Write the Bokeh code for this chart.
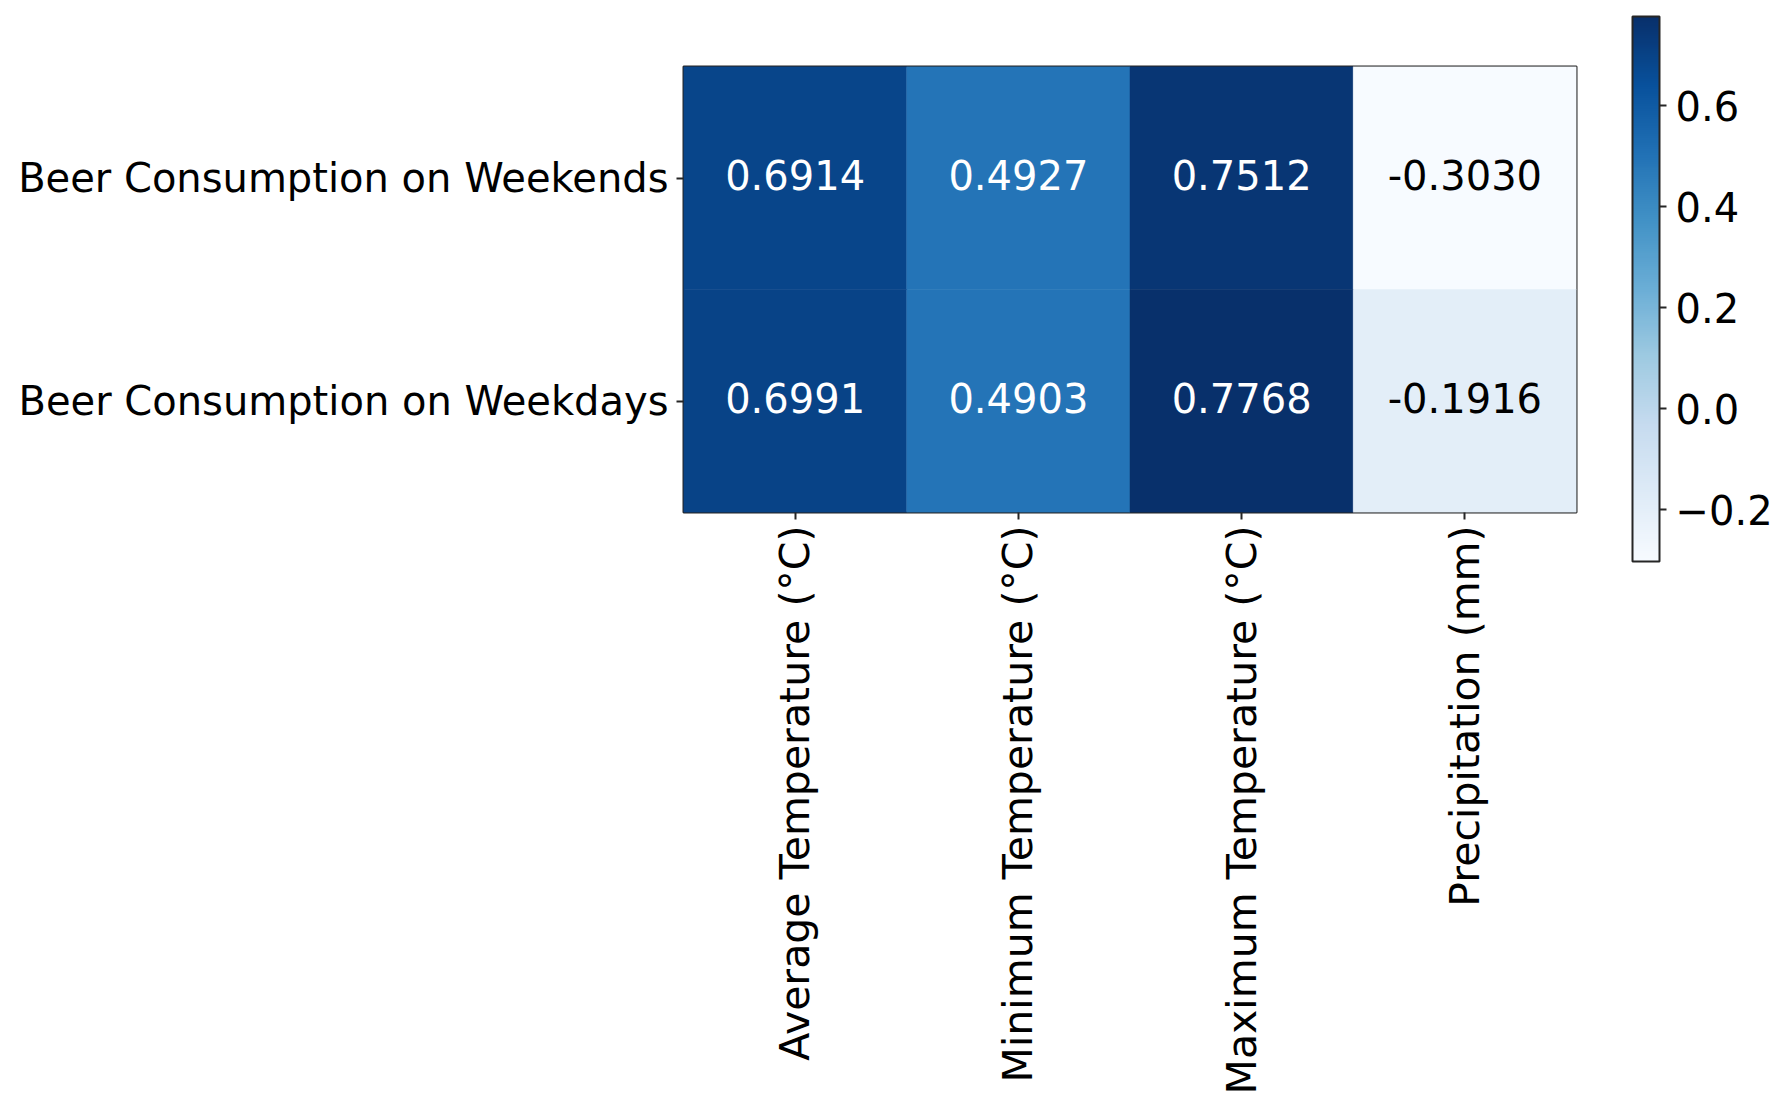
import math
from bokeh.plotting import figure
from bokeh.models import (FactorRange, LinearColorMapper, ColorBar, FixedTicker,
                          CustomJSTickFormatter, ColumnDataSource)
from bokeh.palettes import Blues256
from bokeh.embed import file_html
from bokeh.resources import INLINE

# ---- data ----
row_labels = ["Beer Consumption on Weekends", "Beer Consumption on Weekdays"]
col_labels = ["Average Temperature (°C)", "Minimum Temperature (°C)",
              "Maximum Temperature (°C)", "Precipitation (mm)"]
weekends = [0.6914, 0.4927, 0.7512, -0.3030]
weekdays = [0.6991, 0.4903, 0.7768, -0.1916]
cbar_ticks = [-0.2, 0.0, 0.2, 0.4, 0.6]

FONT = "DejaVu Sans"
FS = "40px"

xs, ys, vals = [], [], []
for r, series in zip(row_labels, [weekends, weekdays]):
    for c, v in zip(col_labels, series):
        xs.append(c)
        ys.append(r)
        vals.append(v)

vmin, vmax = min(vals), max(vals)
mid = (vmin + vmax) / 2
src = ColumnDataSource(dict(
    x=xs, y=ys, v=vals,
    txt=[f"{v:.4f}" for v in vals],
    tc=["white" if v > mid else "black" for v in vals],
))

mapper = LinearColorMapper(palette=list(Blues256[::-1]), low=vmin, high=vmax)

p = figure(x_range=FactorRange(*col_labels), y_range=FactorRange(*row_labels[::-1]),
           frame_width=893, frame_height=446,
           min_border_left=683, min_border_top=66, min_border_bottom=588, min_border_right=204,
           output_backend="svg", toolbar_location=None, tools="")
p.x_range.range_padding = 0
p.y_range.range_padding = 0

p.rect(x="x", y="y", width=1, height=1, source=src,
       fill_color={"field": "v", "transform": mapper},
       line_color={"field": "v", "transform": mapper}, line_width=0.5)
p.text(x="x", y="y", text="txt", source=src, text_color="tc",
       text_align="center", text_baseline="middle", y_offset=-3,
       text_font={"value": FONT}, text_font_size={"value": FS})

p.grid.visible = False
p.outline_line_color = "#262626"
p.outline_line_width = 2
p.background_fill_color = "white"
p.border_fill_color = "white"

for ax in (p.xaxis[0], p.yaxis[0]):
    ax.axis_line_color = None
    ax.major_tick_out = 7
    ax.major_tick_in = 0
    ax.major_tick_line_width = 2
    ax.major_tick_line_color = "#262626"
    ax.minor_tick_line_color = None
    ax.major_label_text_font = FONT
    ax.major_label_text_font_size = FS
    ax.major_label_text_color = "black"
    ax.major_label_standoff = 8
p.xaxis[0].major_label_orientation = math.pi / 2
p.xaxis[0].major_label_standoff = 6
p.xaxis[0].major_label_text_font_size = "41px"

cb = ColorBar(color_mapper=mapper, width=27, height=545, padding=0,
              location=(949, -49),
              ticker=FixedTicker(ticks=cbar_ticks),
              formatter=CustomJSTickFormatter(code="return tick.toFixed(1).replace('-', '\u2212');"),
              major_tick_in=0, major_tick_out=7, major_tick_line_color="#262626",
              major_tick_line_width=2, minor_tick_line_color=None,
              bar_line_color="#262626", bar_line_width=2,
              major_label_text_font=FONT, major_label_text_font_size=FS,
              major_label_text_color="black", label_standoff=9,
              background_fill_color=None, border_line_color=None)
p.add_layout(cb, "center")

open("out.html", "w").write(file_html(p, INLINE))
